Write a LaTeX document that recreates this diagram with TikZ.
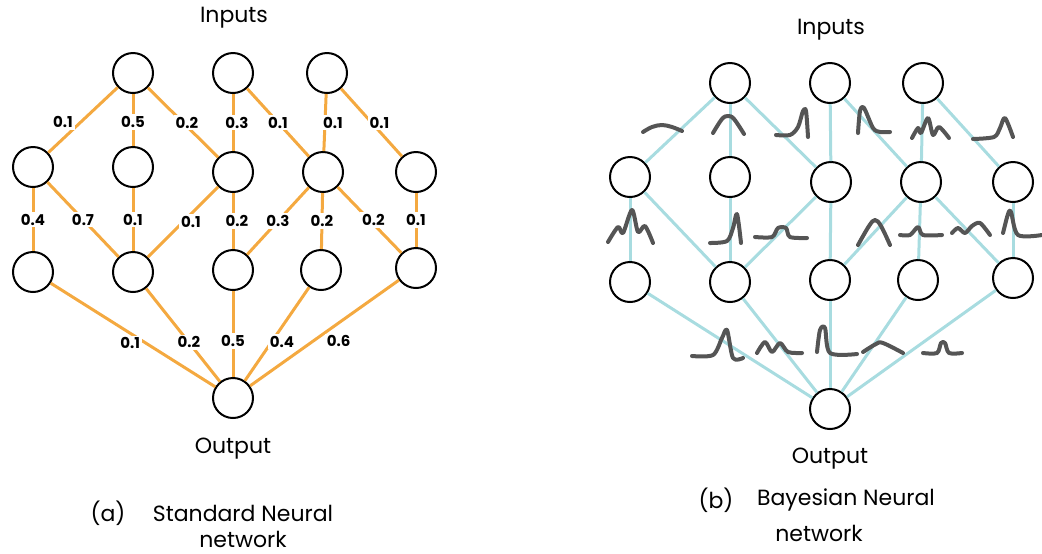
\documentclass[tikz,border=0pt]{standalone}
\usepackage{fontspec}
\setmainfont{Poppins}
\usepackage{tikz}
\usetikzlibrary{positioning}

\definecolor{wline}{HTML}{F4A940}
\definecolor{bline}{HTML}{A8DCE0}
\definecolor{pdfgray}{HTML}{555555}

\begin{document}
\begin{tikzpicture}[x=0.5pt,y=-0.5pt,
  neuron/.style={circle,draw,line width=1pt,minimum size=20pt,inner sep=0pt},
  wt/.style={fill=white,inner sep=1pt,font=\bfseries\fontsize{7.5}{8}\selectfont},
  std/.style={draw=wline,line width=1.5pt},
  bay/.style={draw=bline,line width=1.5pt},
  dist/.style={draw=pdfgray,line width=2pt,line cap=round,line join=round},
  txt/.style={inner sep=1pt,font=\fontsize{11}{13}\selectfont}]

\useasboundingbox (0,0) rectangle (1042,553);

% (a) standard network
\node[neuron] (I1)  at (133,73)  {};
\node[neuron] (I2)  at (233,73)  {};
\node[neuron] (I3)  at (327,73)  {};
\node[neuron] (H11) at (33,167)  {};
\node[neuron] (H12) at (133,167) {};
\node[neuron] (H13) at (233,172) {};
\node[neuron] (H14) at (323,172) {};
\node[neuron] (H15) at (416,172) {};
\node[neuron] (H21) at (33,272)  {};
\node[neuron] (H22) at (133,272) {};
\node[neuron] (H23) at (233,270) {};
\node[neuron] (H24) at (321,270) {};
\node[neuron] (H25) at (416,268) {};
\node[neuron] (O)   at (233,398) {};

\node[txt] (inA)     at (234,18)  {Inputs};
\node[txt] (outA)    at (233,449) {Output};
\node[txt] (capA)    at (108,513) {(a)};
\node[txt] (titleA)  at (243,513) {Standard Neural};
\node[txt] (titleA2) at (243,539) {network};

\path[every edge/.style=std]
      (I1) edge node[wt,xshift=-10pt,yshift=-1pt] {0.1} (H11)
      (I1) edge node[wt,yshift=-1pt] {0.5} (H12)
      (I1) edge node[wt,xshift=2pt] {0.2} (H13)
      (I2) edge node[wt,xshift=2pt] {0.3} (H13)
      (I2) edge node[wt] {0.1} (H14)
      (I3) edge node[wt,xshift=4pt] {0.1} (H14)
      (I3) edge node[wt,xshift=4pt] {0.1} (H15);
\path[every edge/.style=std]
      (H11) edge node[wt] {0.4} (H21)
      (H11) edge node[wt] {0.7} (H22)
      (H12) edge node[wt] {0.1} (H22)
      (H13) edge node[wt,xshift=4pt] {0.1} (H22)
      (H13) edge node[wt,xshift=2pt] {0.2} (H23)
      (H14) edge node[wt] {0.3} (H23)
      (H14) edge node[wt] {0.2} (H24)
      (H14) edge node[wt,xshift=2pt] {0.2} (H25)
      (H15) edge node[wt] {0.1} (H25);
\path[every edge/.style=std]
      (H21) edge node[wt,pos=.58,xshift=-8pt] {0.1} (O)
      (H22) edge node[wt,pos=.58] {0.2} (O)
      (H23) edge node[wt,pos=.58] {0.5} (O)
      (H24) edge node[wt,pos=.58,xshift=5pt] {0.4} (O)
      (H25) edge node[wt,pos=.58,xshift=13pt] {0.6} (O);

% (b) bayesian network
\node[neuron] (bI1)  at (730,83)   {};
\node[neuron] (bI2)  at (830,83)   {};
\node[neuron] (bI3)  at (923,83)   {};
\node[neuron] (bH11) at (630,177)  {};
\node[neuron] (bH12) at (730,177)  {};
\node[neuron] (bH13) at (831,182)  {};
\node[neuron] (bH14) at (921,182)  {};
\node[neuron] (bH15) at (1013,182) {};
\node[neuron] (bH21) at (630,282)  {};
\node[neuron] (bH22) at (730,282)  {};
\node[neuron] (bH23) at (830,280)  {};
\node[neuron] (bH24) at (918,280)  {};
\node[neuron] (bH25) at (1013,278) {};
\node[neuron] (bO)   at (830,409)  {};

\node[txt] (inB)     at (831,30)  {Inputs};
\node[txt] (outB)    at (830,459) {Output};
\node[txt] (capB)    at (716,500) {(b)};
\node[txt] (titleB)  at (846,500) {Bayesian Neural};
\node[txt] (titleB2) at (819,533) {network};

\path (bI1) edge[bay] (bH11)
      (bI1) edge[bay] (bH12)
      (bI1) edge[bay] (bH13)
      (bI2) edge[bay] (bH13)
      (bI2) edge[bay] (bH14)
      (bI3) edge[bay] (bH14)
      (bI3) edge[bay] (bH15);
\path (bH11) edge[bay] (bH21)
      (bH11) edge[bay] (bH22)
      (bH12) edge[bay] (bH22)
      (bH13) edge[bay] (bH22)
      (bH13) edge[bay] (bH23)
      (bH14) edge[bay] (bH23)
      (bH14) edge[bay] (bH24)
      (bH14) edge[bay] (bH25)
      (bH15) edge[bay] (bH25);
\path (bH21) edge[bay] (bO)
      (bH22) edge[bay] (bO)
      (bH23) edge[bay] (bO)
      (bH24) edge[bay] (bO)
      (bH25) edge[bay] (bO);

% weight distributions
\draw[dist] plot[smooth,tension=.6] coordinates {(643,132) (652,127) (662,125) (672,127) (682,131)};
\draw[dist] plot[smooth,tension=.6] coordinates {(713,133) (722,119) (728,116) (734,119) (744,134)};
\draw[dist] plot[smooth,tension=.5] coordinates {(776,135) (790,135) (798,127) (803,111) (806,111) (808,137)};
\draw[dist] plot[smooth,tension=.5] coordinates {(858,133) (860,111) (864,108) (873,128) (880,132) (890,132)};
\draw[dist] plot[smooth,tension=.5] coordinates {(912,138) (918,128) (921,133) (928,118) (933,135) (939,127) (949,138)};
\draw[dist] plot[smooth,tension=.5] coordinates {(973,139) (994,137) (1000,128) (1005,118) (1013,137)};

\draw[dist] plot[smooth,tension=.5] coordinates {(608,242) (618,227) (623,233) (632,210) (638,232) (645,226) (653,243)};
\draw[dist] plot[smooth,tension=.5] coordinates {(710,243) (727,241) (733,228) (737,214) (741,243)};
\draw[dist] plot[smooth,tension=.5] coordinates {(755,237) (772,237) (778,228) (786,228) (790,237) (807,238)};
\draw[dist] plot[smooth,tension=.6] coordinates {(858,245) (869,226) (875,220) (881,226) (890,245)};
\draw[dist] plot[smooth,tension=.5] coordinates {(900,235) (910,235) (918,227) (923,235) (942,235)};
\draw[dist] plot[smooth,tension=.5] coordinates {(952,233) (958,228) (965,233) (972,226) (980,223) (990,235)};
\draw[dist] plot[smooth,tension=.5] coordinates {(1003,233) (1008,214) (1011,212) (1018,235) (1042,235)};

\draw[dist] plot[smooth,tension=.5] coordinates {(692,356) (713,355) (722,338) (727,330) (733,358) (743,358)};
\draw[dist] plot[smooth,tension=.5] coordinates {(757,353) (765,342) (772,352) (780,343) (788,352) (802,353)};
\draw[dist] plot[smooth,tension=.5] coordinates {(817,352) (820,330) (825,328) (830,353) (857,354)};
\draw[dist] plot[smooth,tension=.6] coordinates {(863,352) (876,344) (883,343) (903,353)};
\draw[dist] plot[smooth,tension=.5] coordinates {(923,353) (937,353) (941,343) (945,343) (949,353) (962,353)};
\end{tikzpicture}
\end{document}
